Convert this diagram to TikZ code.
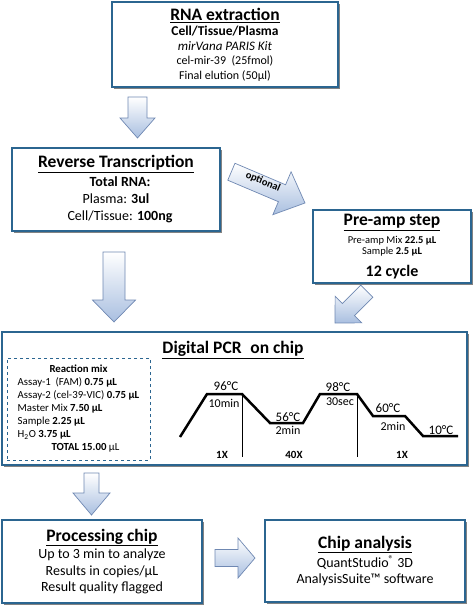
\documentclass[tikz,border=0pt]{standalone}
\usepackage{fontspec}
\setmainfont{Carlito}
\usetikzlibrary{shadows}
\definecolor{boxblue}{HTML}{2B6590}
\definecolor{arrowblue}{HTML}{A9BFE0}
\definecolor{arrowline}{HTML}{6F88B2}
\newcommand{\steptitle}[1]{{\fontsize{17.5}{20}\selectfont\bfseries\underline{#1}}}

\begin{document}
\begin{tikzpicture}[
    x=1pt, y=-1pt,
    stepbox/.style={rectangle, draw=boxblue, line width=2pt, fill=white,
                    align=center, inner sep=0pt,
                    drop shadow={shadow xshift=1.5pt, shadow yshift=-1.5pt,
                                 fill=black!75, opacity=0.65}},
    mixbox/.style={rectangle, draw=boxblue, dashed, line width=0.7pt,
                   inner sep=0pt},
    flow/.style={draw=arrowline, line width=0.7pt, line join=miter,
                 top color=white, bottom color=arrowblue},
    % block arrow with its tip at the origin: length/shaft half/head half/head length
    pics/blockarrow/.style n args={4}{code={
        \shade[flow] (0,0) -- (-#4,#3) -- (-#4,#2) -- (-#1,#2) -- (-#1,-#2)
            -- (-#4,-#2) -- (-#4,-#3) -- cycle;}},
    temp/.style={font=\fontsize{13}{15}\selectfont, inner sep=0pt},
    hold/.style={font=\fontsize{12}{14}\selectfont, inner sep=0pt},
    cycles/.style={font=\fontsize{11}{13}\selectfont\bfseries, inner sep=0pt},
    profile/.style={line width=2.5pt, line join=miter},
    divider/.style={line width=0.6pt}
]
\useasboundingbox (0,0) rectangle (473,608);

% Steps
\node[stepbox, minimum width=226, minimum height=85,
      font=\fontsize{12}{14.5}\selectfont] (rna) at (225,44.5)
    {\steptitle{RNA extraction}\\[1pt]
     {\fontsize{13.5}{14.5}\selectfont\bfseries Cell/Tissue/Plasma}\\
     {\fontsize{13}{14.5}\selectfont\itshape mirVana PARIS Kit}\\
     cel-mir-39~~(25fmol)\\
     Final elution (50µl)};

\node[stepbox, minimum width=208, minimum height=83,
      font=\fontsize{14}{17}\selectfont] (rt) at (116,189.5)
    {\steptitle{Reverse Transcription}\\[2pt]
     \hspace{8pt}\textbf{Total RNA:}\\
     Plasma: \textbf{3ul}\\
     \hspace{8pt}Cell/Tissue: \textbf{100ng}};

\node[stepbox, minimum width=158, minimum height=73,
      font=\fontsize{10.5}{10.5}\selectfont] (preamp) at (392,246.5)
    {\steptitle{Pre-amp step}\\[5pt]
     Pre-amp Mix \textbf{22.5 µL}\\
     Sample \textbf{2.5 µL}\\[8pt]
     {\fontsize{16}{18}\selectfont\bfseries 12 cycle}};

\node[stepbox, minimum width=465, minimum height=133] (pcr) at (234.5,398.5) {};
\node[inner sep=0pt] (pcrtitle) at (233,350) {\steptitle{Digital PCR\enspace on chip}};

\node[stepbox, minimum width=200, minimum height=83,
      font=\fontsize{14}{16.5}\selectfont] (proc) at (102,561.5)
    {\steptitle{Processing chip}\\[1pt]
     Up to 3 min to analyze\\
     Results in copies/µL\\
     Result quality flagged};

\node[stepbox, minimum width=200, minimum height=82,
      font=\fontsize{14}{16}\selectfont] (chip) at (365,561)
    {\steptitle{Chip analysis}\\[2pt]
     QuantStudio\textsuperscript{®} 3D\\
     AnalysisSuite™ software};

% Reaction mix
\node[mixbox, minimum width=143, minimum height=102,
      font=\fontsize{10.8}{13}\selectfont] (mix) at (78.5,409)
    {\begin{tabular}{@{}l@{}}
     \multicolumn{1}{c}{\textbf{Reaction mix}}\\
     Assay-1~~(FAM) \textbf{0.75 µL}\\
     Assay-2 (cel-39-VIC) \textbf{0.75 µL}\\
     Master Mix \textbf{7.50 µL}\\
     Sample \textbf{2.25 µL}\\
     H\textsubscript{2}O \textbf{3.75 µL}\\
     \multicolumn{1}{c}{\hspace{14pt}\textbf{TOTAL 15.00} µL}
     \end{tabular}};

% Thermal profile
\draw[profile] (180,437) -- (207,394) -- (242,394) -- (270,423) -- (303,423)
    -- (320,394) -- (357,394) -- (373,416) -- (405,416) -- (423,436) -- (458,436);
\draw[divider] (242,394) -- (242,457);
\draw[divider] (357,394) -- (357,457);

\node[temp] (t96) at (226,386) {96°C};
\node[hold] (h96) at (224,403) {10min};
\node[temp] (t56) at (288,417) {56°C};
\node[hold] (h56) at (288,430) {2min};
\node[temp] (t98) at (338,387) {98°C};
\node[hold] (h98) at (340,402) {30sec};
\node[temp] (t60) at (388,408) {60°C};
\node[hold] (h60) at (393,426) {2min};
\node[temp] (t10) at (441,430) {10°C};
\node[cycles] (c1) at (222,455) {1X};
\node[cycles] (c40) at (294,455) {40X};
\node[cycles] (c2) at (402,455) {1X};

% Block arrows (placed by their tips)
\pic[rotate=-90] (a1) at (137.5,138) {blockarrow={41}{9.5}{17.5}{20}};
\pic[rotate=-90] (a2) at (114,322) {blockarrow={70}{11}{21.5}{22}};
\pic[rotate=-23] (a3) at (305,203) {blockarrow={80}{9.2}{23.3}{25}};
\node[rotate=-23, inner sep=0pt, font=\fontsize{10.5}{12}\selectfont\bfseries] (opt) at (263,182) {optional};
\pic[rotate=-135] (a4) at (335,323) {blockarrow={45}{8.5}{18.8}{19}};
\pic[rotate=-90] (a5) at (91.5,515) {blockarrow={42}{7.5}{18.5}{22}};
\pic (a6) at (255,558) {blockarrow={40}{8.5}{20}{17}};

\end{tikzpicture}
\end{document}
